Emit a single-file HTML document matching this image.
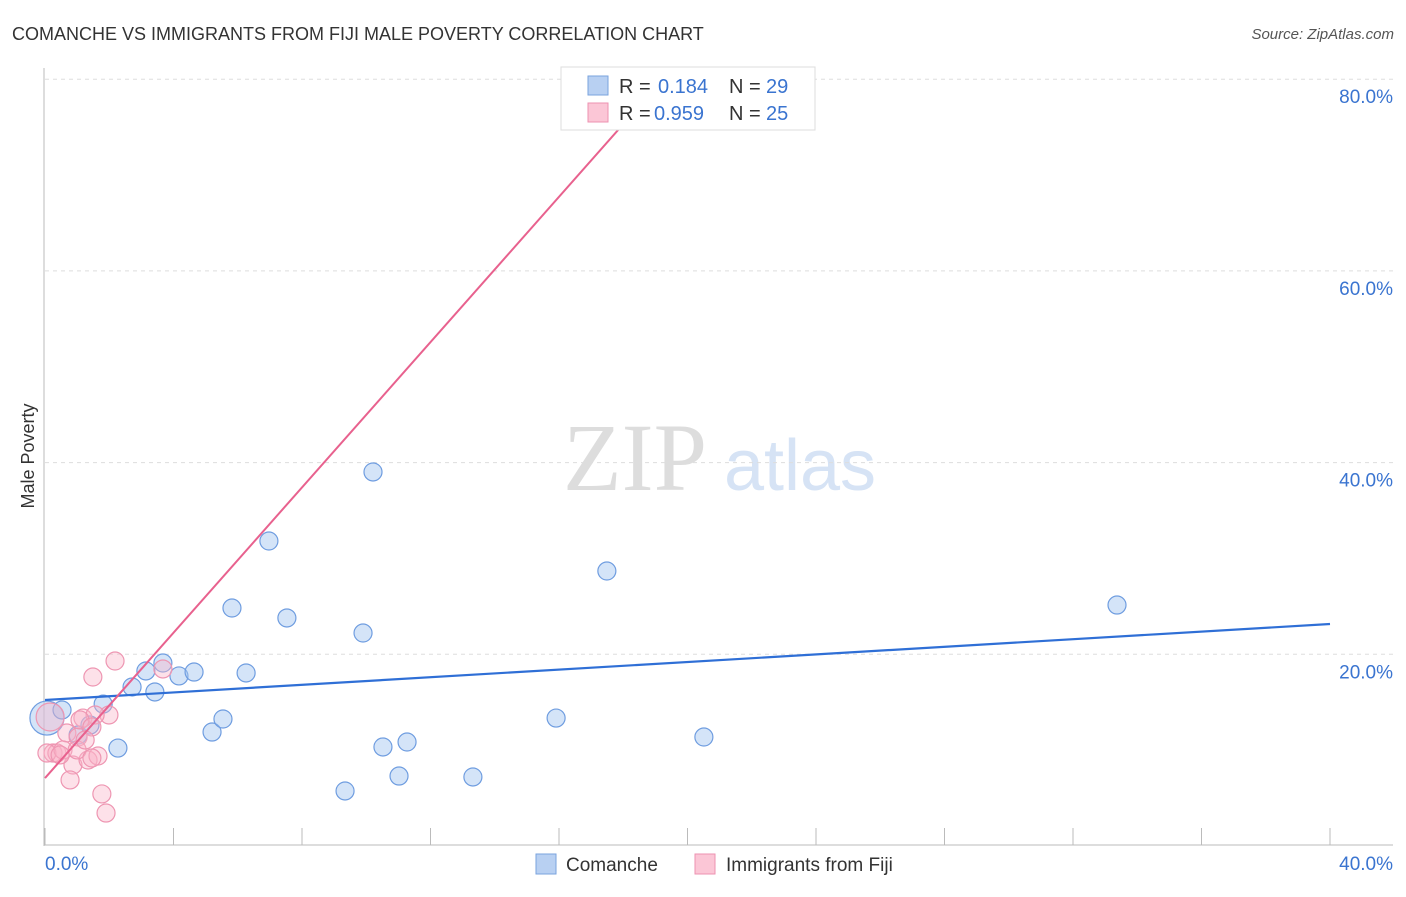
<!DOCTYPE html>
<html><head><meta charset="utf-8"><style>
body{margin:0;background:#fff;}
svg{font-family:"Liberation Sans",sans-serif;}
</style></head><body>
<svg width="1406" height="892" viewBox="0 0 1406 892">
<text x="12" y="40" font-size="18" fill="#333">COMANCHE VS IMMIGRANTS FROM FIJI MALE POVERTY CORRELATION CHART</text>
<text x="1394" y="39" font-size="15" fill="#555" font-style="italic" text-anchor="end">Source: ZipAtlas.com</text>
<text x="0" y="0" font-size="18" fill="#333" text-anchor="middle" transform="translate(34,456) rotate(-90)">Male Poverty</text>
<g>
<text x="635" y="490" font-size="96" fill="#ddd" text-anchor="middle" font-family="Liberation Serif,serif">ZIP</text>
<text x="800" y="490" font-size="72" fill="#d6e3f5" text-anchor="middle">atlas</text>
</g>
<g id="grid"></g>
<g id="axes"></g>
<g id="marks"></g>
<g>
<rect x="561" y="67" width="254" height="63" fill="#fff" stroke="#ddd"/>
<rect x="588" y="76" width="20" height="19" fill="#b8d0f2" stroke="#7aa3de"/>
<rect x="588" y="103" width="20" height="19" fill="#fbc6d6" stroke="#ee92b0"/>
<text x="619" y="93" font-size="20" fill="#333">R = </text><text x="658" y="93" font-size="20" fill="#3a74d0">0.184</text>
<text x="729" y="93" font-size="20" fill="#333">N = </text><text x="766" y="93" font-size="20" fill="#3a74d0">29</text>
<text x="619" y="120" font-size="20" fill="#333">R = </text><text x="654" y="120" font-size="20" fill="#3a74d0">0.959</text>
<text x="729" y="120" font-size="20" fill="#333">N = </text><text x="766" y="120" font-size="20" fill="#3a74d0">25</text>
</g>
<g>
<rect x="536" y="854" width="20" height="20" fill="#b8d0f2" stroke="#7aa3de"/>
<text x="566" y="871" font-size="19" fill="#333">Comanche</text>
<rect x="695" y="854" width="20" height="20" fill="#fbc6d6" stroke="#ee92b0"/>
<text x="726" y="871" font-size="19" fill="#333">Immigrants from Fiji</text>
</g>
</svg>
<script>
const xTicks=[0,4,8,12,16,20,24,28,32,36,40];
const yTicks=[20,40,60,80];
const yTickLabels=["20.0%","40.0%","60.0%","80.0%"];
const xEndLabels=["0.0%","40.0%"];
const comancheX=[0.06,0.53,1.03,1.40,1.81,2.27,2.71,3.14,3.42,3.67,4.17,4.64,5.20,5.54,5.82,6.26,6.97,7.53,9.34,9.90,10.21,10.52,11.02,11.27,13.32,15.91,17.49,20.51,33.37];
const comancheY=[13.35,14.19,11.58,12.62,14.81,10.22,16.59,18.26,16.07,19.09,17.74,18.15,11.89,13.25,24.83,18.05,31.82,23.79,5.74,22.22,39.02,10.33,7.30,10.85,7.20,13.35,28.69,11.37,25.14];
const fijiX=[2.18,1.49,3.67,1.99,1.18,1.56,0.68,1.03,0.25,0.37,0.87,1.34,1.65,0.78,1.77,1.90,0.06,0.56,1.00,1.46,0.16,1.09,1.46,1.25,0.47];
const fijiY=[19.30,17.63,18.47,13.67,13.35,13.67,11.79,11.37,9.70,9.70,8.45,8.97,9.39,6.89,5.43,3.44,9.70,10.02,10.02,9.18,13.46,13.15,12.42,11.06,9.50];
const comancheLine=[15.23,23.16];
const fijiLine=[7.09,3.79];
const NS="http://www.w3.org/2000/svg";
const X=v=>45+v*32.125, Y=v=>846-v*9.585;
function mk(t,a,p){const e=document.createElementNS(NS,t);for(const k in a)e.setAttribute(k,a[k]);document.getElementById(p).appendChild(e);return e;}
yTicks.forEach((t,i)=>{
 const g=mk('line',{x1:45,x2:1393,y1:Y(t),y2:Y(t),stroke:'#ddd','stroke-dasharray':'4,4'},'grid');
 
 
 const l=mk('text',{x:1393,y:Y(t)+24,'font-size':19,fill:'#3a74d0','text-anchor':'end'},'axes');
 l.textContent=yTickLabels[i];
 
 
});
let a=mk('line',{x1:44,x2:44,y1:68,y2:846,stroke:'#bbb'},'axes');


a=mk('line',{x1:44,x2:1393,y1:845,y2:845,stroke:'#bbb'},'axes');


xTicks.forEach(t=>{
 const k=mk('line',{x1:X(t),x2:X(t),y1:828,y2:845,stroke:'#bbb'},'axes');
 
 
});
let xl=mk('text',{x:45,y:870,'font-size':19,fill:'#3a74d0'},'axes');xl.textContent=xEndLabels[0];


xl=mk('text',{x:1393,y:870,'font-size':19,fill:'#3a74d0','text-anchor':'end'},'axes');xl.textContent=xEndLabels[1];


comancheX.forEach((x,i)=>{
 const r=i===0?17:9;
 const c=mk('circle',{cx:X(x),cy:Y(comancheY[i]),r:r,fill:'rgba(160,195,240,0.45)',stroke:'#6f9de0','stroke-width':1.2},'marks');
 
 
});
fijiX.forEach((x,i)=>{
 const r=i===20?14:9;
 const c=mk('circle',{cx:X(x),cy:Y(fijiY[i]),r:r,fill:'rgba(250,180,200,0.4)',stroke:'#ee96b2','stroke-width':1.2},'marks');
 
 
});
let ln=mk('line',{x1:X(0),y1:Y(comancheLine[0]),x2:X(40),y2:Y(comancheLine[1]),stroke:'#2f6fd6','stroke-width':2.2},'marks');


const xEnd=(80-fijiLine[0])/fijiLine[1];
ln=mk('line',{x1:X(0),y1:Y(fijiLine[0]),x2:X(xEnd),y2:Y(80),stroke:'#e8618e','stroke-width':2},'marks');


</script>
</body></html>
